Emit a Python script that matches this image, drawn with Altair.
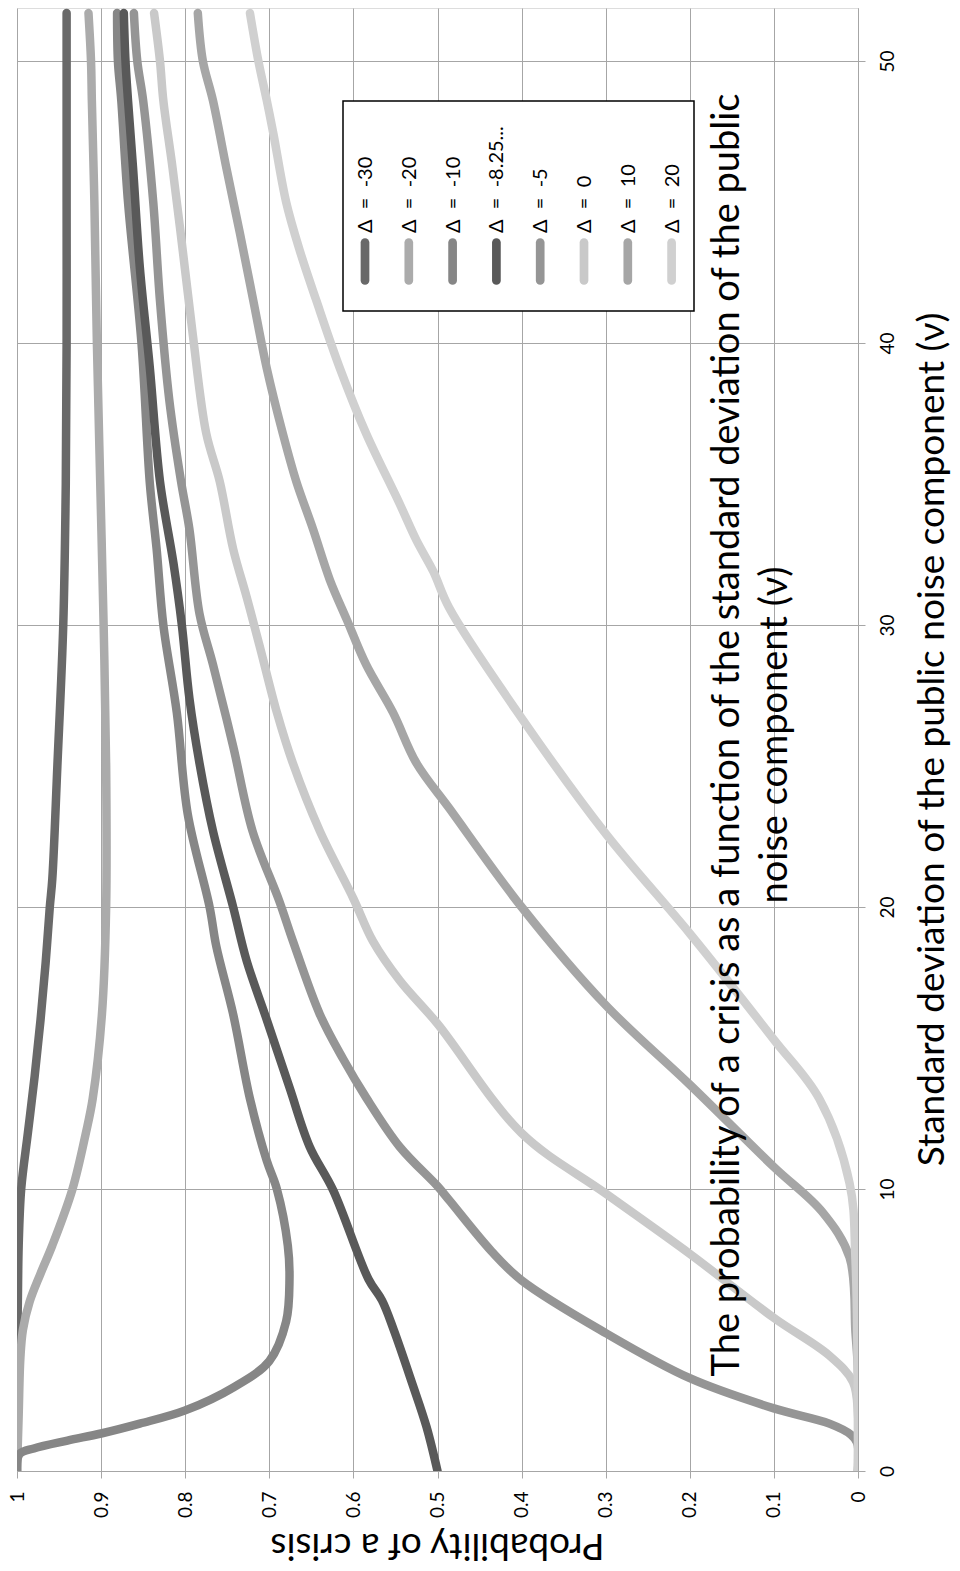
import altair as alt
import pandas as pd

# ---- data: nu (std. dev. of public noise) vs probability of crisis ----
series_names = ["Δ = -30", "Δ = -20", "Δ = -10", "Δ = -8.25...", "Δ = -5", "Δ = 0", "Δ = 10", "Δ = 20"]
series_colors = ["#696969", "#ababab", "#868686", "#595959", "#959595", "#c9c9c9", "#a6a6a6", "#d0d0d0"]

nu_m30 = [0, 2, 4, 6, 8, 10, 12, 14, 16, 18, 20, 21, 25, 30, 35, 40, 45, 50, 51.7]
p_m30 = [1.0, 1.0, 1.0, 0.999, 0.998, 0.995, 0.987, 0.979, 0.972, 0.966, 0.961, 0.958, 0.952, 0.945, 0.942, 0.941, 0.941, 0.941, 0.941]

nu_m20 = [0, 2, 4, 5, 6, 7, 8, 10, 12, 13.2, 16.2, 20, 25, 30, 35, 40, 45, 48.6, 50, 51.7]
p_m20 = [1.0, 0.998, 0.996, 0.993, 0.985, 0.972, 0.958, 0.934, 0.918, 0.91, 0.899, 0.894, 0.894, 0.897, 0.901, 0.905, 0.908, 0.911, 0.912, 0.915]

nu_m10 = [0, 0.6, 0.8, 1.08, 1.33, 1.68, 2.15, 2.96, 3.9, 5.3, 6.8, 8, 10, 11, 13.2, 16.2, 18.6, 20, 23.3, 26.9, 30, 32.7, 35, 40, 45, 48.6, 50, 51.7]
p_m10 = [1.0, 0.997, 0.98, 0.94, 0.9, 0.854, 0.8, 0.743, 0.7, 0.68, 0.676, 0.678, 0.691, 0.703, 0.723, 0.743, 0.763, 0.771, 0.797, 0.81, 0.826, 0.834, 0.842, 0.852, 0.868, 0.876, 0.880, 0.881]

nu_m825 = [0, 1.56, 3.1, 5, 6.05, 6.8, 9.95, 11.5, 13.6, 16, 18.1, 20, 22.7, 25.1, 27.4, 30, 32.2, 35.1, 39.1, 42.7, 46.2, 48.6, 50, 51.7]
p_m825 = [0.5, 0.513, 0.53, 0.552, 0.566, 0.582, 0.624, 0.652, 0.676, 0.703, 0.727, 0.743, 0.767, 0.783, 0.795, 0.804, 0.814, 0.83, 0.842, 0.854, 0.862, 0.868, 0.871, 0.873]

nu_m5 = [0, 1.0, 1.28, 1.68, 2.22, 3.29, 4.89, 6.76, 7.8, 9.6, 10.1, 11.5, 13.25, 14.6, 16.2, 18.8, 20.2, 22.7, 25.7, 28.6, 30.4, 33.4, 35.1, 38, 41.5, 45, 48.6, 50, 51.7]
p_m5 = [0, 0.001, 0.008, 0.034, 0.1, 0.2, 0.3, 0.4, 0.436, 0.486, 0.5, 0.545, 0.585, 0.612, 0.64, 0.672, 0.688, 0.72, 0.743, 0.767, 0.783, 0.795, 0.805, 0.819, 0.83, 0.838, 0.85, 0.857, 0.861]

nu_0 = [0, 2.0, 3.16, 4.09, 5.43, 7.7, 9.84, 11.98, 15.86, 17.4, 18.8, 20.3, 22.7, 25.1, 26.9, 29.2, 31, 32.7, 35.1, 36.8, 40.3, 43.3, 46.2, 48.6, 50, 51.7]
p_0 = [0, 0.0, 0.006, 0.034, 0.1, 0.2, 0.3, 0.4, 0.5, 0.545, 0.577, 0.6, 0.64, 0.672, 0.691, 0.711, 0.727, 0.743, 0.759, 0.775, 0.791, 0.803, 0.815, 0.826, 0.83, 0.837]

nu_10 = [0, 3.5, 4.9, 7.57, 9.17, 10.78, 13.7, 16.52, 20, 23.5, 25.1, 26.9, 28.6, 30.2, 31.6, 33.4, 35.1, 36.8, 39.1, 41.5, 43.9, 46.2, 48.6, 50, 51.7]
p_10 = [0, 0.0, 0.003, 0.01, 0.042, 0.1, 0.2, 0.3, 0.4, 0.486, 0.525, 0.553, 0.585, 0.608, 0.628, 0.648, 0.668, 0.684, 0.703, 0.719, 0.735, 0.751, 0.767, 0.779, 0.785]

nu_20 = [0, 7.5, 10.2, 13.2, 15.3, 19.06, 22.6, 26.7, 30.6, 31.9, 33, 34.3, 36.8, 39.1, 41.5, 43.3, 45, 47.4, 48.6, 50, 51.7]
p_20 = [0, 0.003, 0.01, 0.046, 0.1, 0.2, 0.3, 0.4, 0.486, 0.505, 0.525, 0.545, 0.585, 0.616, 0.644, 0.664, 0.68, 0.695, 0.703, 0.713, 0.723]

prob_ticks = [0, 0.1, 0.2, 0.3, 0.4, 0.5, 0.6, 0.7, 0.8, 0.9, 1.0]
nu_ticks = [0, 10, 20, 30, 40, 50]

chart_title = ("The probability of a crisis as a function of the standard deviation of the public\n"
               "noise component (ν)")
x_title = "Probability of a crisis"
y_title = "Standard deviation of the public noise component (ν)"

all_nu = [nu_m30, nu_m20, nu_m10, nu_m825, nu_m5, nu_0, nu_10, nu_20]
all_p = [p_m30, p_m20, p_m10, p_m825, p_m5, p_0, p_10, p_20]

rows = []
for name, nus, ps in zip(series_names, all_nu, all_p):
    for n, p in zip(nus, ps):
        rows.append({"series": name, "nu": n, "p": p})
df = pd.DataFrame(rows)

FONT = "Lato"
GRID = "#a6a6a6"
W, H = 841, 1463

x_enc = alt.X(
    "p:Q",
    scale=alt.Scale(domain=[0, 1], reverse=True, nice=False, zero=False),
    axis=alt.Axis(
        orient="bottom", values=prob_ticks, format=".1~f", title=None,
        labelAngle=270, labelAlign="right", labelBaseline="middle",
        labelFont=FONT, labelFontSize=19, labelColor="black", labelPadding=13,
        labelOverlap=False, labelFlush=False,
        tickSize=7, tickColor=GRID, domainColor=GRID, gridColor=GRID, gridWidth=1,
    ),
)
y_enc = alt.Y(
    "nu:Q",
    scale=alt.Scale(domain=[0, 51.88], nice=False, zero=False),
    axis=alt.Axis(
        orient="right", values=nu_ticks, format="d", title=None,
        labelAngle=270, labelAlign="center", labelBaseline="top",
        labelFont=FONT, labelFontSize=19, labelColor="black", labelPadding=13,
        labelOverlap=False, labelFlush=False,
        tickSize=7, tickColor=GRID, domainColor=GRID, gridColor=GRID, gridWidth=1,
    ),
)

layers = []
for name, col in zip(series_names, series_colors):
    layers.append(
        alt.Chart(df)
        .transform_filter(alt.datum.series == name)
        .mark_line(strokeWidth=8.5, strokeCap="round", strokeJoin="round",
                   interpolate="catmull-rom", clip=True)
        .encode(x=x_enc, y=y_enc, order="nu:Q", color=alt.value(col))
    )

one = pd.DataFrame({"k": [0]})

# in-plot title
layers.append(
    alt.Chart(one).mark_text(angle=270, align="center", baseline="middle", lineBreak="\n",
                             lineHeight=48, font=FONT, fontSize=38, color="black")
    .encode(x=alt.value(711), y=alt.value(727), text=alt.value(chart_title))
)
# axis titles
layers.append(
    alt.Chart(one).mark_text(angle=180, align="center", baseline="alphabetic",
                             font=FONT, fontSize=37, color="black")
    .encode(x=alt.value(W / 2), y=alt.value(1526), text=alt.value(x_title))
)
layers.append(
    alt.Chart(one).mark_text(angle=270, align="center", baseline="alphabetic",
                             font=FONT, fontSize=37, color="black")
    .encode(x=alt.value(927), y=alt.value(H / 2), text=alt.value(y_title))
)

# legend box
layers.append(
    alt.Chart(one).mark_rect(fill="white", stroke="black", strokeWidth=1.5)
    .encode(x=alt.value(326), x2=alt.value(677), y=alt.value(93), y2=alt.value(303))
)
for i, (name, col) in enumerate(zip(series_names, series_colors)):
    lx = 348 + i * 43.8
    layers.append(
        alt.Chart(one).mark_rule(strokeWidth=8.7, strokeCap="round", color=col)
        .encode(x=alt.value(lx), y=alt.value(234.5), y2=alt.value(272.5))
    )
    label = name.replace(" = ", "\u00a0\u00a0=\u00a0\u00a0")
    layers.append(
        alt.Chart(one).mark_text(angle=270, align="left", baseline="middle",
                                 font=FONT, fontSize=20, color="black")
        .encode(x=alt.value(lx + 1), y=alt.value(225), text=alt.value(label))
    )

chart = (
    alt.layer(*layers)
    .properties(width=W, height=H,
                autosize=alt.AutoSizeParams(type="none"),
                padding={"left": 9, "top": 0, "right": 94, "bottom": 92})
    .configure_view(stroke=None)
    .configure(background="white")
)

chart.save("out.html", embed_options={"renderer": "svg", "actions": False})
